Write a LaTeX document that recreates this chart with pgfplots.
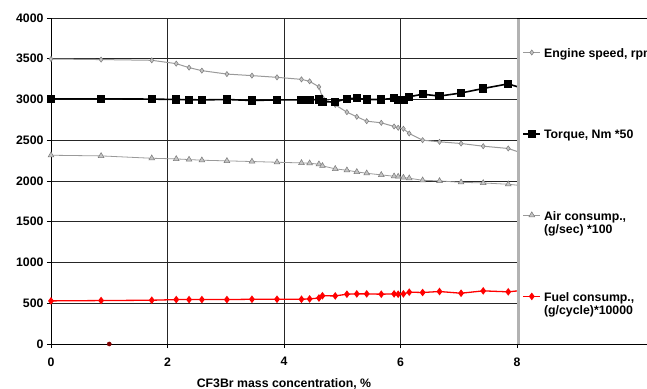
\documentclass[border=0pt]{standalone}
\usepackage{fontspec}
\setmainfont{Liberation Sans}
\usepackage{pgfplots}
\usepackage{pgfplotstable}
\pgfplotsset{compat=1.18}
\definecolor{enggray}{HTML}{9A9A9A}
\definecolor{markfill}{HTML}{C4C4C4}
\definecolor{markedge}{HTML}{7A7A7A}
\definecolor{darkred}{HTML}{800000}
\pgfplotstableread{
x     eng   torq  air   fuel
0     3497  3008  2316  529
0.86  3490  3008  2308  533
1.73  3481  3005  2279  537
2.15  3440  3000  2271  545
2.37  3391  2998  2263  545
2.59  3354  2995  2255  545
3.02  3312  3000  2247  545
3.45  3293  2988  2239  549
3.88  3272  2995  2230  549
4.30  3247  2995  2222  549
4.44  3223  2995  2218  553
4.60  3155  3000  2206  564
4.66  3025  2972  2186  592
4.88  2934  2970  2149  590
5.08  2845  3010  2132  611
5.25  2788  3014  2112  615
5.42  2734  3000  2095  615
5.67  2714  3000  2075  611
5.89  2669  3014  2058  615
5.96  2653  2994  2054  611
6.05  2641  2998  2042  615
6.15  2583  3034  2034  636
6.38  2501  3065  2009  632
6.67  2481  3042  2001  644
7.04  2460  3080  1984  623
7.42  2427  3135  1976  652
7.85  2399  3192  1960  640
8.00  2363  3158  1949  651
}\datatable
\begin{document}
\begin{tikzpicture}
\begin{axis}[
  name=ax,
  scale only axis, width=466bp, height=326bp,
  xmin=0, xmax=8, ymin=0, ymax=4000,
  xtick={0,2,4,6,8}, ytick={0,500,...,4000},
  axis x line=bottom, axis y line=left,
  axis line style={-, black, line width=0.6bp},
  tick align=outside, major tick length=4bp,
  tick style={black, line width=0.6bp},
  grid=major, major grid style={black!85, line width=0.6bp},
  clip=false,
  /pgf/number format/assume math mode=true,
  /pgf/number format/1000 sep={},
  ticklabel style={font=\fontsize{12.3bp}{14bp}\selectfont\bfseries},
  xticklabel style={yshift=-6bp},
  xlabel={CF3Br mass concentration, \%},
  xlabel style={at={(axis description cs:0.5,0)}, anchor=base, yshift=-43.5bp, font=\fontsize{12.3bp}{14bp}\selectfont\bfseries},
  legend style={at={(1,1)}, anchor=north west, xshift=5.3bp, yshift=6.35bp,
    draw=none, fill=none, inner sep=0pt, column sep=3bp, row sep=0pt,
    cells={anchor=west},
    nodes={inner sep=0pt, text height=45.65bp, text depth=35.65bp,
      font=\fontsize{12.3bp}{13.5bp}\selectfont\bfseries}},
  legend cell align=left,
  legend image post style={mark indices={2}},
]
\addplot[color=enggray, line width=1bp, mark=diamond*, mark size=2.6bp,
  mark options={fill=markfill, draw=markedge, line width=0.5bp}, mark indices={1,...,27}]
  table[x=x, y=eng] {\datatable};
\addlegendentry{Engine speed, rpm}
\addplot[color=black, line width=1.6bp, mark=square*, mark size=3.3bp, mark indices={1,...,27}]
  table[x=x, y=torq] {\datatable};
\addlegendentry{Torque, Nm *50}
\addplot[color=enggray, line width=0.8bp, mark=triangle*, mark size=3.3bp,
  mark options={fill=markfill, draw=markedge, line width=0.5bp}, mark indices={1,...,27}]
  table[x=x, y=air] {\datatable};
\addlegendentry{\vtop{\hbox{Air consump.,}\hbox{(g/sec) *100}}}
\addplot[color=red, line width=1.3bp, mark=diamond*, mark size=2.8bp, mark indices={1,...,27}]
  table[x=x, y=fuel] {\datatable};
\addlegendentry{\vtop{\hbox{Fuel consump.,}\hbox{(g/cycle)*10000}}}
\addplot[only marks, mark=*, mark size=2.1bp, color=darkred, forget plot]
  coordinates {(1,0)};
\end{axis}
\draw[black!30, line width=2.5bp] ([xshift=1.3bp]ax.south east) -- ([xshift=1.3bp]ax.north east);
\draw[black, line width=0.6bp] (ax.north east) -- ++(200bp,0);
\draw[black, line width=0.6bp] (ax.south east) -- ++(200bp,0);
\pgfresetboundingbox
\useasboundingbox (-51bp,-45bp) rectangle (596bp,344bp);
\end{tikzpicture}
\end{document}
